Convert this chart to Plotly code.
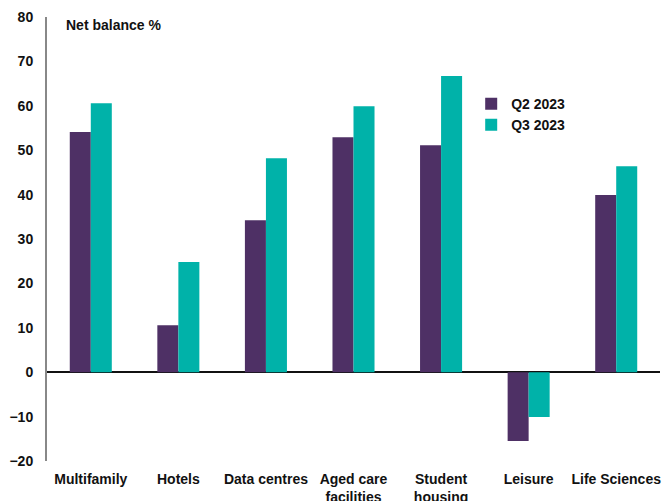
import plotly.graph_objects as go

categories = ["Multifamily", "Hotels", "Data centres", "Aged care<br>facilities",
              "Student<br>housing", "Leisure", "Life Sciences"]
q2_2023 = [54.1, 10.6, 34.2, 52.9, 51.1, -15.5, 39.9]
q3_2023 = [60.6, 24.8, 48.2, 59.9, 66.7, -10.1, 46.4]
y_ticks = [-20, -10, 0, 10, 20, 30, 40, 50, 60, 70, 80]

FONT = "Liberation Sans"
fig = go.Figure()
fig.add_bar(x=categories, y=q2_2023, name="Q2 2023", marker_color="#4e3065",
            marker_line_width=0)
fig.add_bar(x=categories, y=q3_2023, name="Q3 2023", marker_color="#00b2a9",
            marker_line_width=0)

fig.update_layout(
    width=669, height=501,
    margin=dict(l=47, r=9, t=17, b=40),
    plot_bgcolor="white", paper_bgcolor="white",
    barmode="group", bargap=0.52, bargroupgap=0,
    font=dict(family=FONT, size=14, color="#111111"),
    showlegend=True,
    legend=dict(x=0.692, y=0.84, xanchor="left", yanchor="top",
                font=dict(family=FONT, size=14, color="#111111", weight="bold"),
                itemwidth=30, tracegroupgap=0, bgcolor="rgba(0,0,0,0)"),
    annotations=[dict(text="<b>Net balance %</b>", x=0.027, y=1.005, xref="paper", yref="paper",
                      xanchor="left", yanchor="top", showarrow=False,
                      font=dict(family=FONT, size=14, color="#111111"))],
)
fig.update_yaxes(range=[-20, 80], tickvals=y_ticks, showgrid=False, automargin=False,
                 showline=True, linecolor="#888888", linewidth=2,
                 zeroline=True, zerolinecolor="#111111", zerolinewidth=1.5,
                 ticks="", ticklabelstandoff=9,
                 tickfont=dict(family=FONT, size=14, color="#111111", weight="bold"))
fig.update_xaxes(showgrid=False, showline=False, ticks="", ticklabelstandoff=8, automargin=False,
                 tickfont=dict(family=FONT, size=14, color="#111111", weight="bold"))

fig.write_html("out.html")
